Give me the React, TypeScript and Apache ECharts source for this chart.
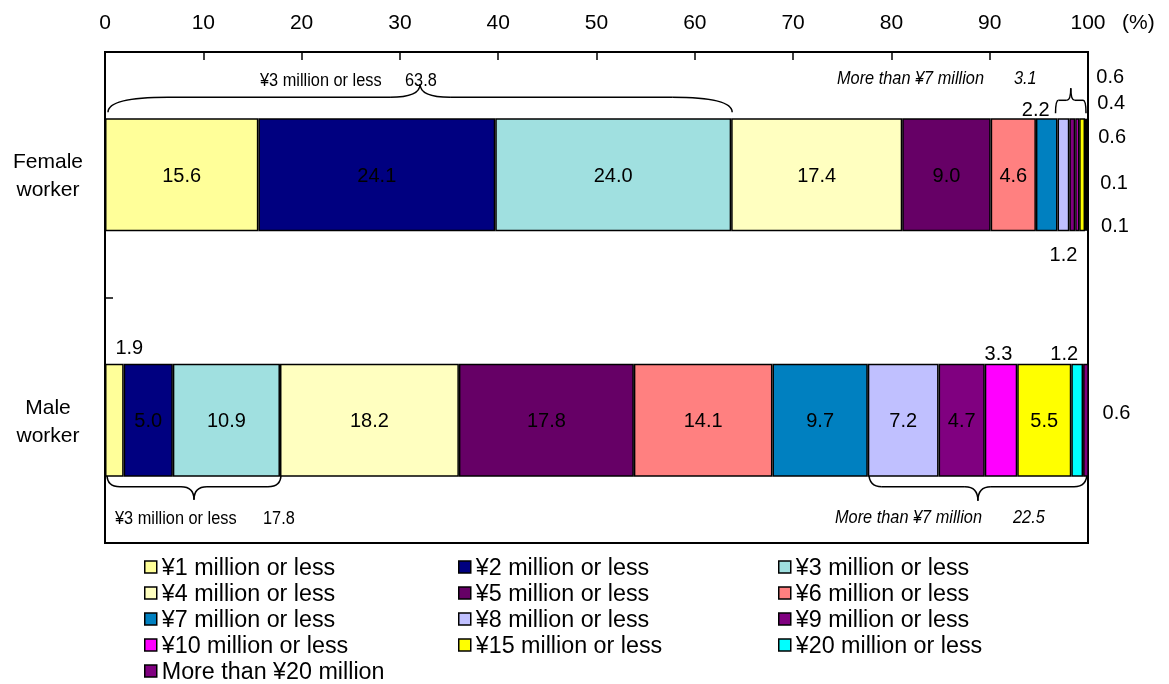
import React, { useEffect, useRef } from 'react';
import * as echarts from 'echarts';

const FONT = '"Liberation Sans", Arial, Helvetica, sans-serif';

const categories = ['Female\nworker', 'Male\nworker'];
const seriesNames = [
  '¥1 million or less', '¥2 million or less', '¥3 million or less',
  '¥4 million or less', '¥5 million or less', '¥6 million or less',
  '¥7 million or less', '¥8 million or less', '¥9 million or less',
  '¥10 million or less', '¥15 million or less', '¥20 million or less',
  'More than ¥20 million',
];
const femaleValues = [15.6, 24.1, 24.0, 17.4, 9.0, 4.6, 2.2, 1.2, 0.6, 0.4, 0.6, 0.1, 0.1];
const maleValues = [1.9, 5.0, 10.9, 18.2, 17.8, 14.1, 9.7, 7.2, 4.7, 3.3, 5.5, 1.2, 0.6];
const colors = [
  '#FFFF99', '#000080', '#A0E0E0', '#FFFFC0', '#660066', '#FF8080',
  '#0080C0', '#C0C0FF', '#800080', '#FF00FF', '#FFFF00', '#00FFFF', '#800080',
];
const femaleUnder3Total = '63.8';
const femaleOver7Total = '3.1';
const maleUnder3Total = '17.8';
const maleOver7Total = '22.5';

// label offsets (null = centred inside the segment)
const femaleLabelOffsets: (number[] | null)[] = [
  null, null, null, null, null, null,
  [-11, -66], [0, 79], [38, -98.5], [34, -72.5], [30, -38.5], [28.5, 7.5], [28.5, 50.5],
];
const maleLabelOffsets: (number[] | null)[] = [
  [15, -73], null, null, null, null, null, null, null, null,
  [-2.5, -67], null, [-13, -67], [30.5, -8],
];

function cumulative(vals: number[]) {
  const out: number[] = [];
  let s = 0;
  vals.forEach((v) => { s += v; out.push(Math.round(s * 10) / 10); });
  return out;
}

function makeItem(v: number, off: number[] | null) {
  return {
    value: v,
    label: {
      show: true,
      position: 'inside',
      offset: off || [0, 0],
      formatter: v.toFixed(1),
      color: '#000',
      fontSize: 20,
      fontFamily: FONT,
      textBorderWidth: 0,
    },
  };
}

function brace(x1: number, x2: number, yTip: number, dir: number, depth: number, peak: number, r1: number, r2: number) {
  const yFlat = yTip + dir * depth;
  const yPeak = yFlat + dir * peak;
  const xm = (x1 + x2) / 2;
  const st = { stroke: '#000', lineWidth: 1.5, fill: null };
  return [
    { type: 'bezierCurve', shape: { x1, y1: yTip, cpx1: x1, cpy1: yFlat, x2: x1 + r1, y2: yFlat }, style: st },
    { type: 'line', shape: { x1: x1 + r1, y1: yFlat, x2: xm - r2, y2: yFlat }, style: st },
    { type: 'bezierCurve', shape: { x1: xm - r2, y1: yFlat, cpx1: xm, cpy1: yFlat, x2: xm, y2: yPeak }, style: st },
    { type: 'bezierCurve', shape: { x1: xm, y1: yPeak, cpx1: xm, cpy1: yFlat, x2: xm + r2, y2: yFlat }, style: st },
    { type: 'line', shape: { x1: xm + r2, y1: yFlat, x2: x2 - r1, y2: yFlat }, style: st },
    { type: 'bezierCurve', shape: { x1: x2 - r1, y1: yFlat, cpx1: x2, cpy1: yFlat, x2, y2: yTip }, style: st },
  ];
}

function narrowText(text: string, x: number, y: number, italic: boolean) {
  return {
    type: 'text', x, y, scaleX: 0.86,
    style: {
      text, fill: '#000', fontSize: 19, fontFamily: FONT,
      fontStyle: italic ? 'italic' : 'normal',
      align: 'left', verticalAlign: 'middle',
    },
  };
}

export default function App() {
  const ref = useRef<HTMLDivElement>(null);
  useEffect(() => {
    if (!ref.current) return;
    const chart = echarts.init(ref.current, null, { renderer: 'svg' });
    const series = seriesNames.map((name, i) => ({
      name,
      type: 'bar',
      stack: 'total',
      barWidth: '46%',
      itemStyle: { color: colors[i], borderColor: '#000', borderWidth: 1.5 },
      emphasis: { disabled: true },
      data: [makeItem(femaleValues[i], femaleLabelOffsets[i]), makeItem(maleValues[i], maleLabelOffsets[i])],
    }));
    const legendCommon = {
      orient: 'vertical',
      top: 554,
      padding: 0,
      itemWidth: 12,
      itemHeight: 12,
      itemGap: 0,
      icon: 'rect',
      selectedMode: false,
      itemStyle: { borderColor: '#000', borderWidth: 1.5 },
      textStyle: { fontSize: 23.3, fontFamily: FONT, color: '#000', lineHeight: 26 },
    };
    chart.setOption({
      animation: false,
      textStyle: { fontFamily: FONT },
      grid: { left: 105, right: 81, top: 52, bottom: 141, show: true, borderColor: '#000', borderWidth: 2 },
      xAxis: {
        type: 'value', position: 'top', min: 0, max: 100, interval: 10,
        axisLine: { show: true, lineStyle: { color: '#000', width: 2 } },
        axisTick: { show: true, inside: true, length: 8, lineStyle: { color: '#000', width: 1.5 } },
        axisLabel: { fontSize: 21, color: '#000', margin: 20, fontFamily: FONT },
        splitLine: { show: false },
      },
      yAxis: {
        type: 'category', inverse: true, data: categories,
        axisLine: { show: true, lineStyle: { color: '#000', width: 2 } },
        axisTick: { show: true, inside: true, length: 8, lineStyle: { color: '#000', width: 1.5 } },
        axisLabel: { fontSize: 21, color: '#000', margin: 57, align: 'center', lineHeight: 28, fontFamily: FONT },
      },
      legend: [
        { ...legendCommon, left: 144, data: [0, 3, 6, 9].map((i) => seriesNames[i]) },
        { ...legendCommon, left: 144, top: 658, data: [12].map((i) => seriesNames[i]) },
        { ...legendCommon, left: 458, data: [1, 4, 7, 10].map((i) => seriesNames[i]) },
        { ...legendCommon, left: 778, data: [2, 5, 8, 11].map((i) => seriesNames[i]) },
      ],
      series,
    });

    const fc = cumulative(femaleValues);
    const mc = cumulative(maleValues);
    const px = (v: number) => chart.convertToPixel({ xAxisIndex: 0 }, Math.min(v, 100)) as number;
    const yF = chart.convertToPixel({ yAxisIndex: 0 }, 0) as number;
    const yM = chart.convertToPixel({ yAxisIndex: 0 }, 1) as number;
    const half = Math.abs(yM - yF) * 0.46 / 2;

    const graphic: any[] = [
      ...brace(px(0) + 3, px(fc[2]) + 1, yF - half - 6, -1, 15, 13, 60, 30),
      ...brace(px(fc[6]) - 2, px(fc[12]) - 1, yF - half - 5, -1, 13, 12, 3, 4),
      ...brace(px(0) + 2, px(mc[2]) + 1, yM + half - 2, 1, 12, 13, 13, 13),
      ...brace(px(mc[6]) + 1, px(100) - 1, yM + half - 4, 1, 14, 14, 13, 13),
      narrowText('¥3 million or less', 260, 80, false),
      narrowText(femaleUnder3Total, 405, 80, false),
      narrowText('More than ¥7 million', 837, 78, true),
      narrowText(femaleOver7Total, 1014, 78, true),
      narrowText('¥3 million or less', 115, 518, false),
      narrowText(maleUnder3Total, 263, 518, false),
      narrowText('More than ¥7 million', 835, 517, true),
      narrowText(maleOver7Total, 1013, 517, true),
      {
        type: 'text', x: 1122, y: 21,
        style: { text: '(%)', fill: '#000', fontSize: 21, fontFamily: FONT, align: 'left', verticalAlign: 'middle' },
      },
    ];
    chart.setOption({ graphic });
    return () => chart.dispose();
  }, []);
  return <div ref={ref} style={{ position: 'fixed', left: 0, top: 0, width: 1169, height: 684 }} />;
}
